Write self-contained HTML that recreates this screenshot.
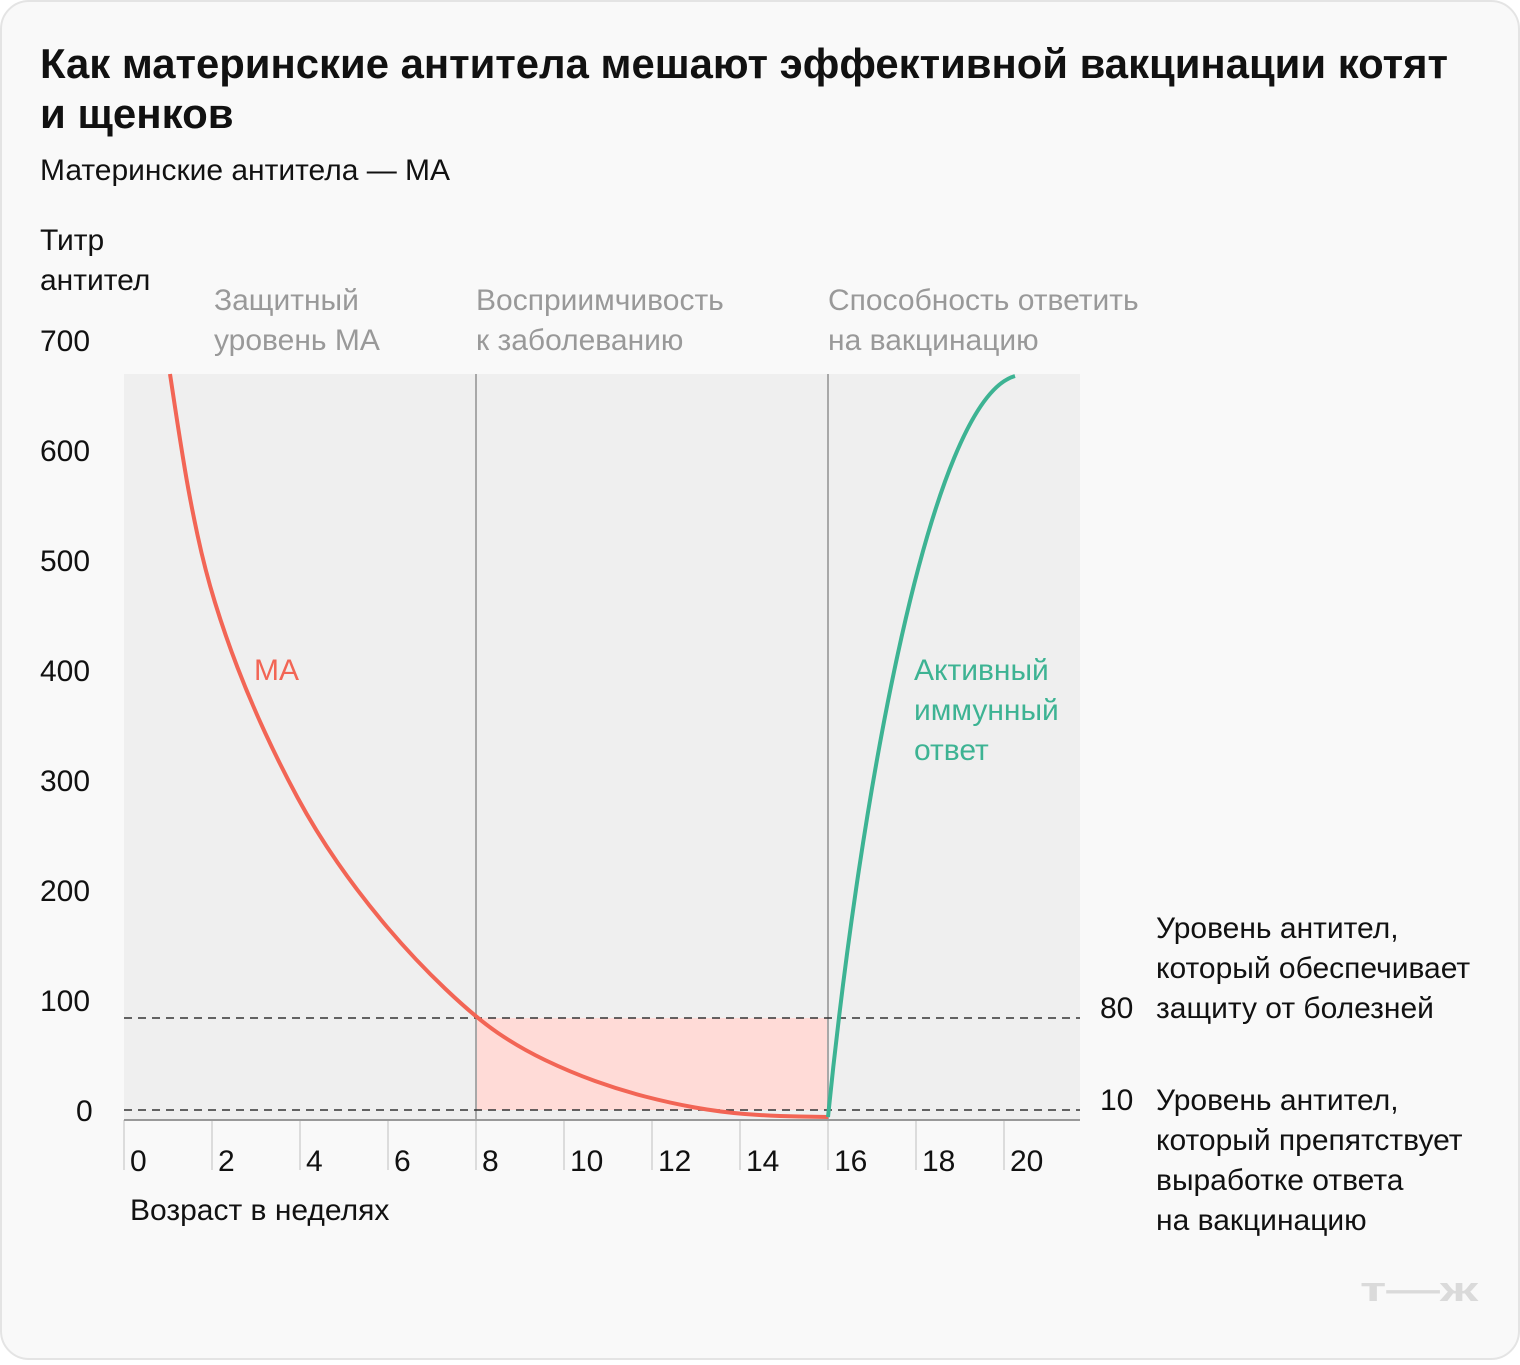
<!DOCTYPE html><html><head><meta charset="utf-8"><style>
body{margin:0;background:#fff;}
svg text{font-family:"Liberation Sans",sans-serif;}
</style></head><body>
<svg width="1520" height="1360" xmlns="http://www.w3.org/2000/svg">
<rect x="1" y="1" width="1518" height="1358" rx="28" fill="#f9f9f9" stroke="#e4e4e4" stroke-width="2"/>
<text x="40" y="78" font-size="42" font-weight="bold" fill="#111" textLength="1408" lengthAdjust="spacingAndGlyphs">Как материнские антитела мешают эффективной вакцинации котят</text>
<text x="40" y="128" font-size="42" font-weight="bold" fill="#111">и щенков</text>
<text x="40" y="180" font-size="30" fill="#111">Материнские антитела — МА</text>
<text x="40" y="250" font-size="30" fill="#111">Титр</text>
<text x="40" y="290" font-size="30" fill="#111">антител</text>
<rect x="124" y="374" width="956" height="746" fill="#efefef"/>
<rect x="476" y="1018" width="352" height="92" fill="#ffdbd7"/>
<line x1="476" y1="374" x2="476" y2="1120" stroke="#a8a8a8" stroke-width="2"/>
<line x1="828" y1="374" x2="828" y2="1120" stroke="#a8a8a8" stroke-width="2"/>
<line x1="124" y1="1018" x2="1080" y2="1018" stroke="#333" stroke-width="1.5" stroke-dasharray="8,6"/>
<line x1="124" y1="1110" x2="1080" y2="1110" stroke="#333" stroke-width="1.5" stroke-dasharray="8,6"/>
<g stroke="#dcdcdc" stroke-width="2">
<line x1="124" y1="1120" x2="124" y2="1170"/><line x1="212" y1="1120" x2="212" y2="1170"/><line x1="300" y1="1120" x2="300" y2="1170"/><line x1="388" y1="1120" x2="388" y2="1170"/><line x1="476" y1="1120" x2="476" y2="1170"/><line x1="564" y1="1120" x2="564" y2="1170"/><line x1="652" y1="1120" x2="652" y2="1170"/><line x1="740" y1="1120" x2="740" y2="1170"/><line x1="828" y1="1120" x2="828" y2="1170"/><line x1="916" y1="1120" x2="916" y2="1170"/><line x1="1004" y1="1120" x2="1004" y2="1170"/>
</g>
<line x1="124" y1="1120" x2="1080" y2="1120" stroke="#999" stroke-width="2"/>
<g font-size="30" fill="#111">
<text x="130" y="1171">0</text><text x="218" y="1171">2</text><text x="306" y="1171">4</text><text x="394" y="1171">6</text><text x="482" y="1171">8</text><text x="570" y="1171">10</text><text x="658" y="1171">12</text><text x="746" y="1171">14</text><text x="834" y="1171">16</text><text x="922" y="1171">18</text><text x="1010" y="1171">20</text>
<text x="130" y="1220">Возраст в неделях</text>
<text x="40" y="351">700</text><text x="40" y="461">600</text><text x="40" y="571">500</text><text x="40" y="681">400</text><text x="40" y="791">300</text><text x="40" y="901">200</text><text x="40" y="1011">100</text><text x="76" y="1121">0</text>
<text x="1100" y="1018">80</text><text x="1100" y="1110">10</text>
<text x="1156" y="938">Уровень антител,</text><text x="1156" y="978">который обеспечивает</text><text x="1156" y="1018">защиту от болезней</text>
<text x="1156" y="1110">Уровень антител,</text><text x="1156" y="1150">который препятствует</text><text x="1156" y="1190">выработке ответа</text><text x="1156" y="1230">на вакцинацию</text>
</g>
<g font-size="30" fill="#999">
<text x="214" y="310">Защитный</text><text x="214" y="350">уровень МА</text>
<text x="476" y="310">Восприимчивость</text><text x="476" y="350">к заболеванию</text>
<text x="828" y="310">Способность ответить</text><text x="828" y="350">на вакцинацию</text>
</g>
<path fill="none" stroke="#f26555" stroke-width="4" d="M170,374 L175,407 Q180,440 185,470 Q190,500 197.5,535 Q205,570 215,602.5 Q225,635 237.5,667.5 Q250,700 265,732.5 Q280,765 297.5,797.5 Q315,830 337.5,862.5 Q360,895 387.5,927.5 Q415,960 445.5,989 Q476,1018 498,1033 Q520,1048 545,1060 Q570,1072 595,1081 Q620,1090 645,1096.5 Q670,1103 695,1107.5 Q720,1112 745,1114 Q770,1116 799,1116.5 L828,1117"/>
<path d="M828,1117 C860,800 930,400 1015,376" fill="none" stroke="#3db393" stroke-width="4"/>
<text x="254" y="680" font-size="30" fill="#f26555">МА</text>
<g font-size="30" fill="#3db393"><text x="914" y="680">Активный</text><text x="914" y="720">иммунный</text><text x="914" y="760">ответ</text></g>
<text x="1360" y="1301" font-size="34" font-weight="bold" fill="#dadada" textLength="118" lengthAdjust="spacingAndGlyphs">т—ж</text>
</svg>
</body></html>
